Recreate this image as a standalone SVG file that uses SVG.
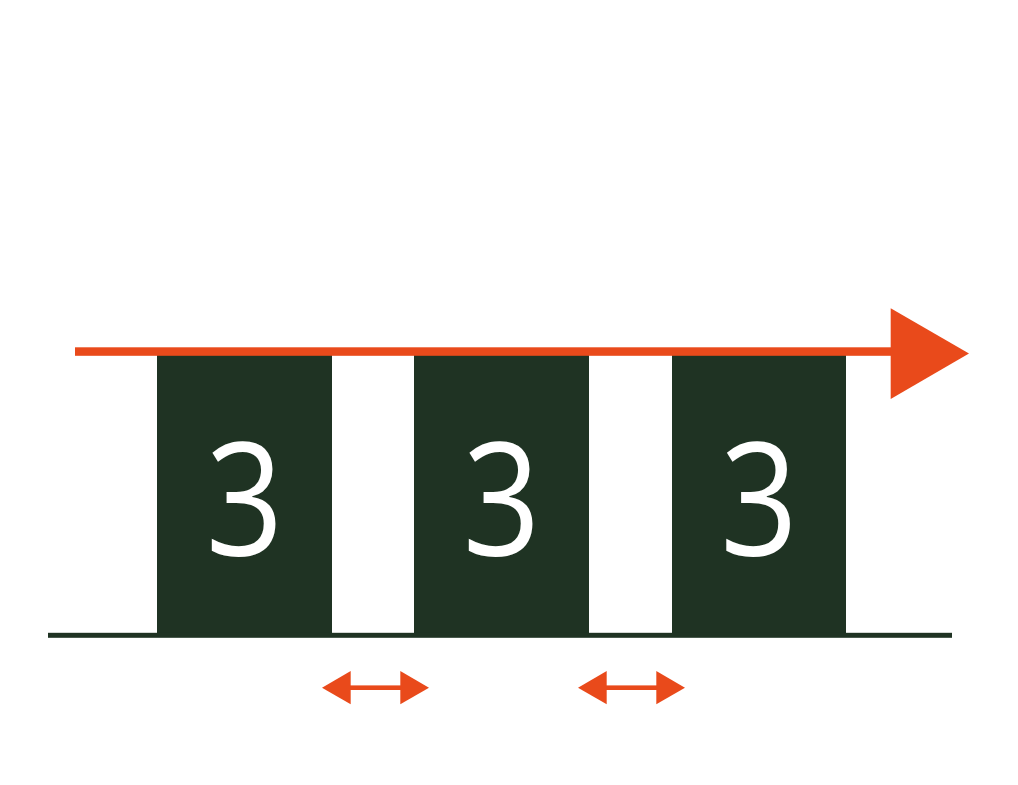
<svg xmlns="http://www.w3.org/2000/svg" width="1018" height="785" viewBox="0 0 1018 785">
<style>
.blk{fill:#1F3323}
.num{fill:#FFFFFF;font-family:"Open Sans",sans-serif;font-size:158px;text-anchor:middle}
.or{fill:#E94A1B}
</style>
<rect width="1018" height="785" fill="#FFFFFF"/>
<g id="block1"><rect class="blk" x="157" y="355" width="175" height="280"/><text class="num" transform="translate(244.5,555) scale(0.86,1)">3</text></g>
<g id="block2"><rect class="blk" x="414" y="355" width="175" height="280"/><text class="num" transform="translate(501.5,555) scale(0.86,1)">3</text></g>
<g id="block3"><rect class="blk" x="672" y="355" width="174" height="280"/><text class="num" transform="translate(759,555) scale(0.86,1)">3</text></g>
<g id="connectors">
<rect class="blk" x="48" y="632.8" width="904" height="5"/>
<rect class="or" x="75" y="347.3" width="817" height="8.5"/>
<polygon class="or" points="890.7,308.3 969,353.5 890.7,399"/>
<g id="gap1"><rect class="or" x="348" y="685.4" width="54" height="4.6"/><polygon class="or" points="322,687.7 350.7,671 350.7,704.3"/><polygon class="or" points="429,687.7 400.3,671 400.3,704.3"/></g>
<g id="gap2"><rect class="or" x="604" y="685.4" width="54" height="4.6"/><polygon class="or" points="578,687.7 606.7,671 606.7,704.3"/><polygon class="or" points="685,687.7 656.3,671 656.3,704.3"/></g>
</g>
</svg>
